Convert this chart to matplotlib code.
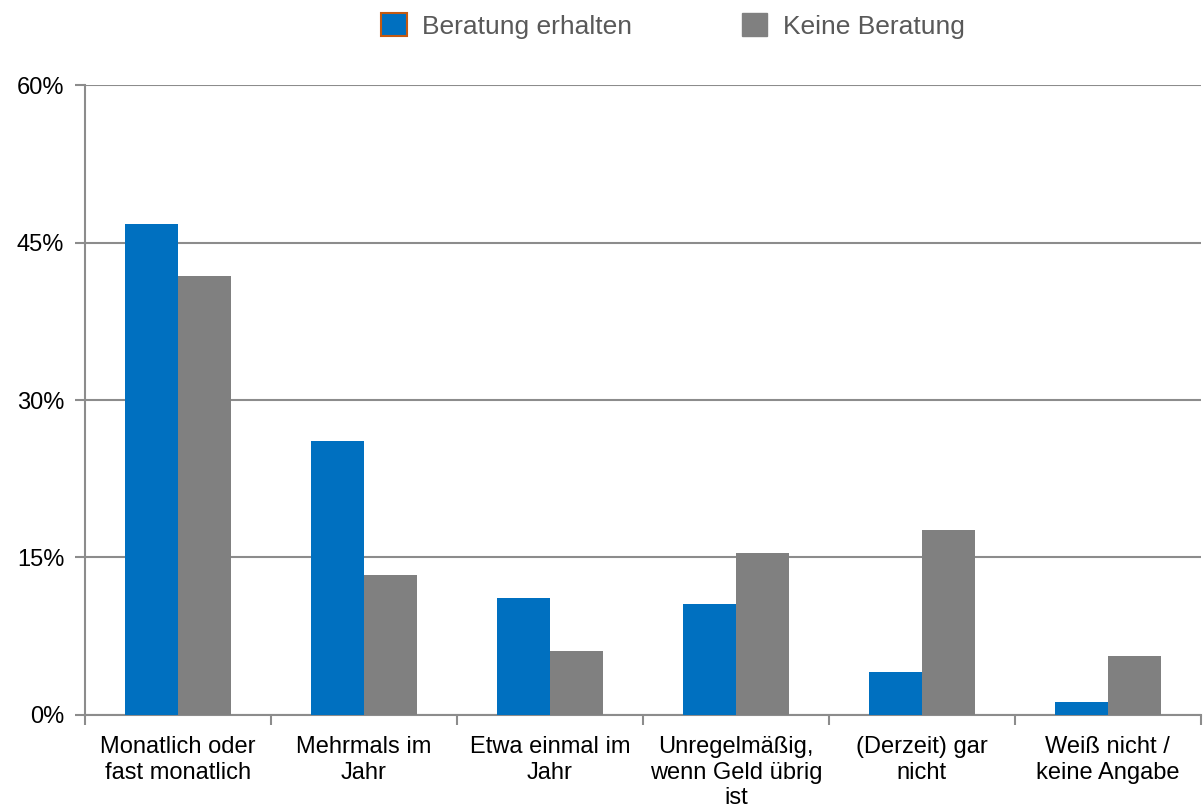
import numpy as np
import matplotlib
matplotlib.use("Agg")
import matplotlib.pyplot as plt
from matplotlib.patches import Patch
from matplotlib.ticker import FixedLocator, PercentFormatter

categories = [
    "Monatlich oder\nfast monatlich",
    "Mehrmals im\nJahr",
    "Etwa einmal im\nJahr",
    "Unregelmäßig,\nwenn Geld übrig\nist",
    "(Derzeit) gar\nnicht",
    "Weiß nicht /\nkeine Angabe",
]
beratung = [46.8, 26.1, 11.1, 10.6, 4.1, 1.2]
keine = [41.8, 13.3, 6.1, 15.4, 17.6, 5.6]
series_names = ["Beratung erhalten", "Keine Beratung"]

blue = "#0070C0"
grey = "#808080"
line_col = "#8c8c8c"

plt.rcParams["font.family"] = ["Liberation Sans", "DejaVu Sans"]

fig = plt.figure(figsize=(12.03, 8.08), dpi=100)
ax = fig.add_axes([0.0707, 0.1151, 0.9273, 0.7797])

x = np.arange(len(categories))
w = 0.285
ax.bar(x - w / 2, beratung, w, color=blue, zorder=3)
ax.bar(x + w / 2, keine, w, color=grey, zorder=3)

ax.set_xlim(-0.5, len(categories) - 0.5)
ax.set_ylim(0, 60)
ax.set_yticks([0, 15, 30, 45, 60])
ax.yaxis.set_major_formatter(PercentFormatter(decimals=0))
ax.grid(axis="y", color=line_col, linewidth=1.5, zorder=0)

ax.set_xticks(x)
ax.set_xticklabels(categories, fontsize=17, linespacing=1.22)
ax.xaxis.set_minor_locator(FixedLocator(np.arange(len(categories) + 1) - 0.5))
ax.tick_params(axis="x", which="major", length=0, pad=15)
ax.tick_params(axis="x", which="minor", length=7, width=1.5, color=line_col)
ax.tick_params(axis="y", length=7, width=1.5, color=line_col, labelsize=17, pad=8)

for s in ["top", "right"]:
    ax.spines[s].set_visible(False)
for s in ["left", "bottom"]:
    ax.spines[s].set_color(line_col)
    ax.spines[s].set_linewidth(1.5)

handles = [
    Patch(facecolor=blue, edgecolor="#C55A11", linewidth=1.5),
    Patch(facecolor=grey, edgecolor=grey),
]
leg = fig.legend(handles, series_names, loc="center", bbox_to_anchor=(0.5595, 0.968),
                 ncol=2, frameon=False, fontsize=19, handlelength=0.95, handleheight=0.95,
                 handletextpad=0.6, columnspacing=4.15)
for t in leg.get_texts():
    t.set_color("#595959")

fig.savefig("out.png", dpi=100)
